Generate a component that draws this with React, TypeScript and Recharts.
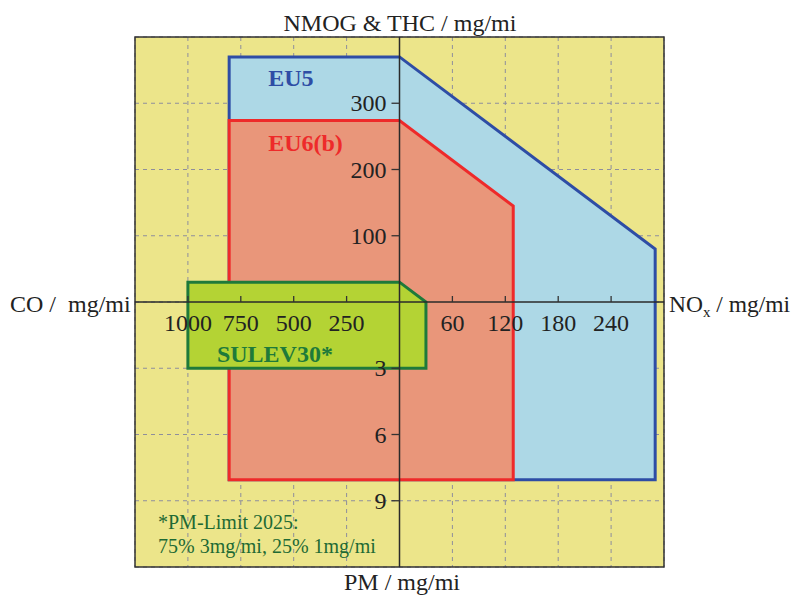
import React from 'react';
import { ScatterChart, Scatter, XAxis, YAxis, CartesianGrid, ReferenceArea } from 'recharts';

const W = 793;
const H = 597;
const FONT = '"Liberation Serif", "Times New Roman", serif';

// value of one grid step on each half-axis
const CO_STEP = 250;
const NOX_STEP = 60;
const HC_STEP = 100;
const PM_STEP = 3;

const coTicks = [1000, 750, 500, 250];
const noxTicks = [60, 120, 180, 240];
const hcTicks = [100, 200, 300];
const pmTicks = [3, 6, 9];

const X_DOMAIN: [number, number] = [-5, 5];
const Y_DOMAIN: [number, number] = [-4, 4];
const gridX = [-5, -4, -3, -2, -1, 0, 1, 2, 3, 4, 5];
const gridY = [-4, -3, -2, -1, 0, 1, 2, 3, 4];

type Vertex = { co?: number; nox?: number; hc?: number; pm?: number };

// limit outlines in mg/mi: CO to the left, NOx to the right, NMOG/THC up, PM down
const eu5Limits: Vertex[] = [
  { co: 805, hc: 370 },
  { nox: 0, hc: 370 },
  { nox: 290, hc: 80 },
  { nox: 290, pm: 8.05 },
  { co: 805, pm: 8.05 },
];

const eu6bLimits: Vertex[] = [
  { co: 805, hc: 274 },
  { nox: 0, hc: 274 },
  { nox: 129, hc: 145 },
  { nox: 129, pm: 8.05 },
  { co: 805, pm: 8.05 },
];

const sulev30Limits: Vertex[] = [
  { co: 1000, hc: 30 },
  { nox: 0, hc: 30 },
  { nox: 30, hc: 0 },
  { nox: 30, pm: 3 },
  { co: 1000, pm: 3 },
];

const toPlot = (v: Vertex) => ({
  x: v.nox !== undefined ? v.nox / NOX_STEP : -(v.co ?? 0) / CO_STEP,
  y: v.hc !== undefined ? v.hc / HC_STEP : -(v.pm ?? 0) / PM_STEP,
});

const tickPoints = [
  ...coTicks.map((v) => ({ ...toPlot({ co: v, hc: 0 }), text: String(v), dir: 'h' })),
  ...noxTicks.map((v) => ({ ...toPlot({ nox: v, hc: 0 }), text: String(v), dir: 'h' })),
  ...hcTicks.map((v) => ({ ...toPlot({ nox: 0, hc: v }), text: String(v), dir: 'v' })),
  ...pmTicks.map((v) => ({ ...toPlot({ nox: 0, pm: v }), text: String(v), dir: 'v' })),
];

// the cross through the origin, end to end
const horizontalAxis = X_DOMAIN.map((x) => ({ x, y: 0 }));
const verticalAxis = Y_DOMAIN.map((y) => ({ x: 0, y }));

const noDot = () => <g />;

const outline =
  (fill: string, stroke: string, label: string, dx: number, dy: number) => (props: any) => {
    const pts = props.points as { x: number; y: number }[];
    if (!pts || !pts.length) return <g />;
    const d = pts.map((p, i) => `${i ? 'L' : 'M'}${p.x},${p.y}`).join(' ') + ' Z';
    return (
      <g>
        <path d={d} fill={fill} stroke={stroke} strokeWidth={3} strokeLinejoin="miter" />
        <text
          x={pts[0].x + dx}
          y={pts[0].y + dy}
          fill={stroke}
          fontFamily={FONT}
          fontSize={24}
          fontWeight="bold"
        >
          {label}
        </text>
      </g>
    );
  };

const axisLine = (props: any) => {
  const pts = props.points as { x: number; y: number }[];
  if (!pts || pts.length < 2) return <g />;
  return (
    <line x1={pts[0].x} y1={pts[0].y} x2={pts[1].x} y2={pts[1].y} stroke="#2a2a2a" strokeWidth={1.5} />
  );
};

const AxisTick = (props: any) => {
  const { cx, cy, payload } = props;
  if (payload.dir === 'h') {
    return (
      <g>
        <line x1={cx} y1={cy - 6} x2={cx} y2={cy} stroke="#333" strokeWidth={1.3} />
        <text x={cx} y={cy + 29} textAnchor="middle" fontFamily={FONT} fontSize={24} fill="#222">
          {payload.text}
        </text>
      </g>
    );
  }
  return (
    <g>
      <line x1={cx - 8} y1={cy} x2={cx} y2={cy} stroke="#333" strokeWidth={1.3} />
      <text x={cx - 13} y={cy + 8} textAnchor="end" fontFamily={FONT} fontSize={24} fill="#222">
        {payload.text}
      </text>
    </g>
  );
};

export default function App() {
  return (
    <div style={{ position: 'absolute', left: 0, top: 0, width: W, height: H, background: '#fff' }}>
      <ScatterChart width={W} height={H} margin={{ top: 37, right: 129, bottom: 30, left: 135 }}>
        <CartesianGrid
          fill="#ECE58A"
          stroke="#8E8E9C"
          strokeDasharray="4 4"
          horizontalValues={gridY}
          verticalValues={gridX}
        />
        <XAxis type="number" dataKey="x" domain={X_DOMAIN} ticks={gridX} hide />
        <YAxis type="number" dataKey="y" domain={Y_DOMAIN} ticks={gridY} hide />
        <Scatter
          data={eu5Limits.map(toPlot)}
          shape={noDot}
          line={outline('#ADD8E6', '#2E4DA5', 'EU5', 39, 29)}
          isAnimationActive={false}
        />
        <Scatter
          data={eu6bLimits.map(toPlot)}
          shape={noDot}
          line={outline('#E9967A', '#EE2A2A', 'EU6(b)', 39, 31)}
          isAnimationActive={false}
        />
        <Scatter
          data={sulev30Limits.map(toPlot)}
          shape={noDot}
          line={outline('#B4D334', '#1E7A3A', 'SULEV30*', 29, 80)}
          isAnimationActive={false}
        />
        <Scatter data={horizontalAxis} shape={noDot} line={axisLine} isAnimationActive={false} />
        <Scatter data={verticalAxis} shape={noDot} line={axisLine} isAnimationActive={false} />
        <Scatter data={tickPoints} shape={AxisTick} isAnimationActive={false} />
        <ReferenceArea x1={-5} x2={5} y1={-4} y2={4} fill="none" stroke="#333" strokeWidth={1.5} />
      </ScatterChart>
      <svg
        width={W}
        height={H}
        style={{ position: 'absolute', left: 0, top: 0, pointerEvents: 'none' }}
        fontFamily={FONT}
        fontSize={24}
        fill="#222"
      >
        <text x={400} y={31} textAnchor="middle">NMOG &amp; THC / mg/mi</text>
        <text x={10} y={312} xmlSpace="preserve">CO /  mg/mi</text>
        <text x={669} y={312} fontSize={23.5}>
          NO<tspan fontSize={15} dy={5}>x</tspan>
          <tspan dy={-5}> / mg/mi</tspan>
        </text>
        <text x={344} y={590}>PM / mg/mi</text>
        <text x={158} y={529} fontSize={20} fill="#1E6A34">*PM-Limit 2025:</text>
        <text x={158} y={553} fontSize={20} fill="#1E6A34">75% 3mg/mi, 25% 1mg/mi</text>
      </svg>
    </div>
  );
}
